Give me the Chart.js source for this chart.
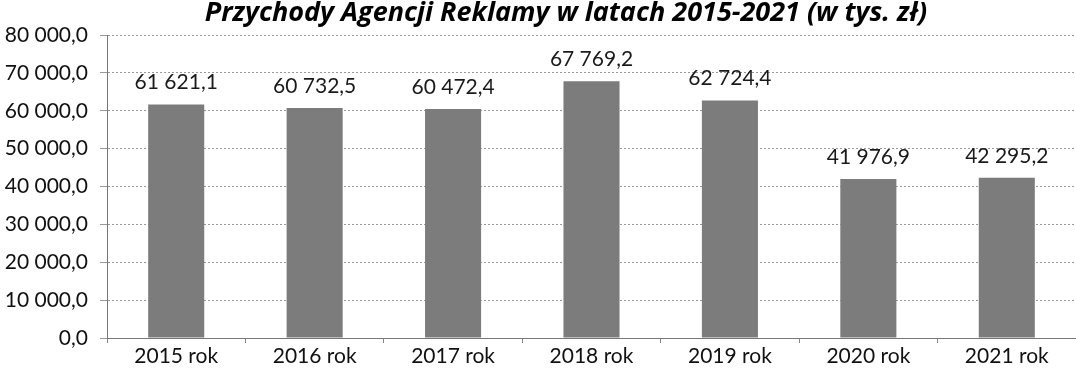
<!DOCTYPE html>
<html>
<head>
<meta charset="utf-8">
<script src="https://cdn.jsdelivr.net/npm/chart.js@4/dist/chart.umd.min.js"></script>
<style>
html,body{margin:0;padding:0;background:#fff;}
#wrap{width:1076px;height:373px;position:relative;}
</style>
</head>
<body>
<div id="wrap"><canvas id="c" width="1076" height="373"></canvas></div>
<script>
const categories = ['2015 rok','2016 rok','2017 rok','2018 rok','2019 rok','2020 rok','2021 rok'];
const revenues = [61621.1, 60732.5, 60472.4, 67769.2, 62724.4, 41976.9, 42295.2];
const yTicks = [0,10000,20000,30000,40000,50000,60000,70000,80000];
const titleText = 'Przychody Agencji Reklamy w latach 2015-2021 (w tys. zł)';

function fmt(v){
  const s = v.toFixed(1);
  const parts = s.split('.');
  const intPart = parts[0].replace(/\B(?=(\d{3})+(?!\d))/g,' ');
  return intPart + ',' + parts[1];
}

const FONT = 'Lato, "Open Sans", sans-serif';

const labelPlugin = {
  id:'valueLabels',
  afterDatasetsDraw(chart){
    const ctx = chart.ctx;
    const meta = chart.getDatasetMeta(0);
    ctx.save();
    ctx.font = '21px ' + FONT;
    ctx.fillStyle = '#1a1a1a';
    ctx.textAlign = 'center';
    ctx.textBaseline = 'middle';
    meta.data.forEach((bar,i)=>{
      ctx.fillText(fmt(revenues[i]), bar.x, bar.y - 22);
    });
    ctx.restore();
  }
};

const titlePlugin = {
  id:'offsetTitle',
  afterDraw(chart){
    const ctx = chart.ctx;
    ctx.save();
    ctx.font = 'italic bold 27px "Open Sans", Lato, sans-serif';
    ctx.fillStyle = '#000';
    ctx.textAlign = 'center';
    ctx.textBaseline = 'middle';
    ctx.fillText(titleText, 566, 13);
    ctx.restore();
  }
};

new Chart(document.getElementById('c'),{
  type:'bar',
  data:{
    labels:categories,
    datasets:[{
      data:revenues,
      backgroundColor:'#7c7c7c',
      borderWidth:0,
      categoryPercentage:1.0,
      barPercentage:0.405
    }]
  },
  options:{
    responsive:false,
    animation:false,
    devicePixelRatio:1,
    layout:{padding:{left:0,right:0,top:35,bottom:0}},
    plugins:{
      legend:{display:false},
      tooltip:{enabled:false},
      title:{display:false}
    },
    scales:{
      x:{
        grid:{display:true,drawOnChartArea:false,drawTicks:true,tickLength:5,color:'#888',offset:true},
        border:{display:true,color:'#777',width:1,dash:[2,2]},
        ticks:{color:'#111',font:{family:FONT,size:21},padding:1,maxRotation:0},
        afterFit(scale){scale.height = 35;}
      },
      y:{
        min:0,max:80000,
        afterBuildTicks(scale){scale.ticks = yTicks.map(v=>({value:v}));},
        grid:{color:'#999',lineWidth:1,drawTicks:true,tickLength:7},
        border:{display:true,color:'#777',width:1,dash:[2,2]},
        ticks:{color:'#111',font:{family:FONT,size:21},padding:12,callback:(v)=>fmt(v)},
        afterFit(scale){scale.width = 107;}
      }
    }
  },
  plugins:[labelPlugin, titlePlugin]
});
</script>
</body>
</html>
